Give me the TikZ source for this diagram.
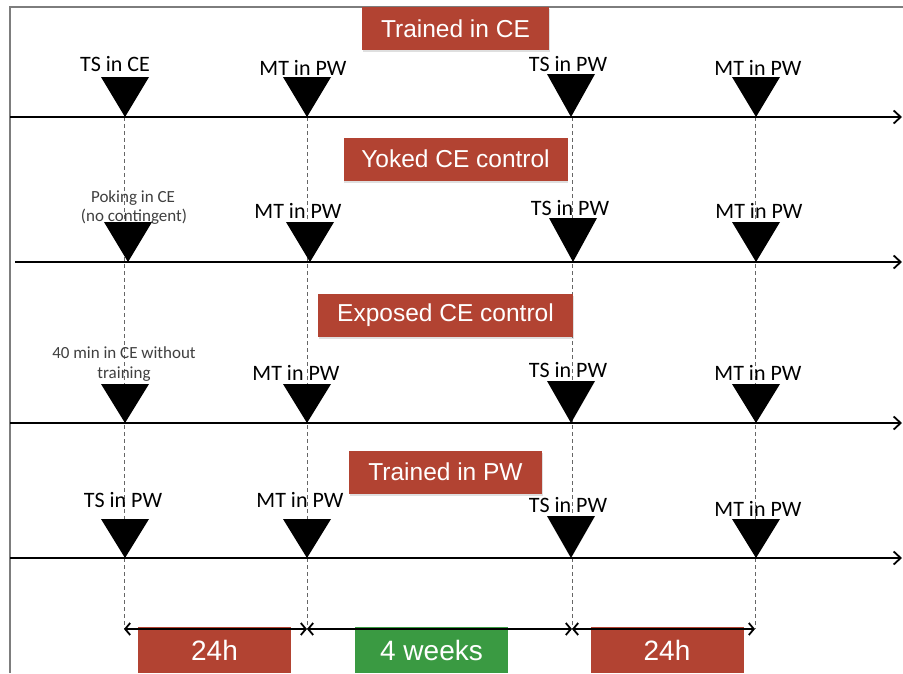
\documentclass[tikz,border=0pt]{standalone}
\usepackage{fontspec}
\setmainfont{Carlito}
\newfontfamily\hv{Liberation Sans}
\usetikzlibrary{arrows.meta,shadows}
\definecolor{brick}{RGB}{178,67,50}
\definecolor{grn}{RGB}{58,154,66}
\definecolor{framegray}{RGB}{125,125,125}
\begin{document}
\begin{tikzpicture}[x=1pt,y=-1pt,
  lbl/.style={font=\fontsize{22}{24}\selectfont, anchor=base, inner sep=0pt, text=black},
  small/.style={font=\fontsize{17}{20}\selectfont, anchor=base, inner sep=0pt, text=black!75},
  hdr/.style={fill=brick, text=white, font=\hv\fontsize{24.5}{28}\selectfont, minimum height=43pt, inner sep=0pt,
     drop shadow={opacity=0.25, shadow xshift=0.5pt, shadow yshift=-2pt}},
  period/.style={text=white, font=\hv\fontsize{28}{30}\selectfont, minimum height=46pt, minimum width=153pt, inner sep=0pt},
  timeline/.style={line width=2.2pt, -{Straight Barb[length=7pt,width=13pt,line width=1.8pt]}},
  guide/.style={draw=black!60, line width=1pt, dash pattern=on 4pt off 3pt},
  span/.style={line width=2.2pt, {Straight Barb[length=5pt,width=12pt,line width=1.8pt]}-{Straight Barb[length=5pt,width=12pt,line width=1.8pt]}}
]
\useasboundingbox (0,0) rectangle (903,673);
\fill[white] (0,0) rectangle (903,673);

% frame
\coordinate (fBL) at (10,673);
\coordinate (fTL) at (10,7);
\coordinate (fTR) at (903,7);
\draw[framegray, line width=1.5pt] (fBL) -- (fTL) -- (fTR);

% vertical guides
\foreach \n/\x in {a/124,b/307,c/572,d/755}{
  \coordinate (g\n top) at (\x,117);
  \coordinate (g\n bot) at (\x,629);
  \draw[guide] (g\n top) -- (g\n bot);
}

% headers
\node[hdr, minimum width=187pt] (h1) at (455.5,28.5) {Trained in CE};
\node[hdr, minimum width=224pt] (h2) at (455.5,159) {Yoked CE control};
\node[hdr, minimum width=255pt] (h3) at (445.5,315.5) {Exposed CE control};
\node[hdr, minimum width=193pt] (h4) at (445.5,472) {Trained in PW};

% timelines
\coordinate (r1s) at (10,117);  \coordinate (r1e) at (902,117);
\coordinate (r2s) at (15,262);  \coordinate (r2e) at (902,262);
\coordinate (r3s) at (10,423);  \coordinate (r3e) at (902,423);
\coordinate (r4s) at (10,558);  \coordinate (r4e) at (902,558);
\foreach \r in {1,2,3,4}{\draw[timeline] (r\r s) -- (r\r e);}

% triangles
\foreach \x/\y/\h in {125/117/40,307/117/40,571/117/43,756/117/40,
                      128/262/40,310/262/40,573/262/44,756/262/40,
                      125/423/39,307/423/39,571/423/42,756/423/39,
                      125/558/39,307/558/39,571/558/42,756/558/39}{
  \fill (\x,\y) -- (\x-24,\y-\h) -- (\x+24,\y-\h) -- cycle;
}

% row 1 labels
\node[lbl] (l11) at (115,71) {TS in CE};
\node[lbl] (l12) at (303,75) {MT in PW};
\node[lbl] (l13) at (568,71) {TS in PW};
\node[lbl] (l14) at (758,75) {MT in PW};
% row 2 labels
\node[small] (l21a) at (133,202) {Poking in CE};
\node[small] (l21b) at (134,221) {(no contingent)};
\node[lbl] (l22) at (298,218) {MT in PW};
\node[lbl] (l23) at (570,215) {TS in PW};
\node[lbl] (l24) at (759,218) {MT in PW};
% row 3 labels
\node[small] (l31a) at (124,358) {40 min in CE without};
\node[small] (l31b) at (124,378) {training};
\node[lbl] (l32) at (296,380) {MT in PW};
\node[lbl] (l33) at (568,377) {TS in PW};
\node[lbl] (l34) at (758,380) {MT in PW};
% row 4 labels
\node[lbl] (l41) at (123,507) {TS in PW};
\node[lbl] (l42) at (300,507) {MT in PW};
\node[lbl] (l43) at (568,512) {TS in PW};
\node[lbl] (l44) at (758,516) {MT in PW};

% bottom periods
\node[period, fill=brick] (p1) at (214.5,650) {24h};
\node[period, fill=grn]   (p2) at (431.5,650) {4 weeks};
\node[period, fill=brick] (p3) at (667,650) {24h};

% spans
\draw[span] (gabot) -- (gbbot);
\draw[span] (gbbot) -- (gcbot);
\draw[span] (gcbot) -- (gdbot);
\end{tikzpicture}
\end{document}
